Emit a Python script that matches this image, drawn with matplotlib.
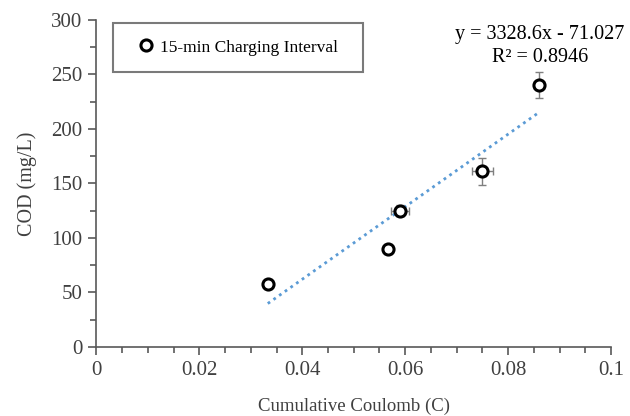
import numpy as np
import matplotlib
matplotlib.use("Agg")
import matplotlib.pyplot as plt
from matplotlib.ticker import MultipleLocator

plt.rcParams['font.family'] = ['Liberation Serif', 'DejaVu Serif']

# data
coulomb = [0.0333, 0.0567, 0.059, 0.075, 0.086]
cod = [58, 90, 125, 161, 240]
cod_err = [0, 0, 5, 12, 12]
coulomb_err = [0, 0, 0.0018, 0.002, 0.001]

slope = 3328.6
intercept = -71.027
r2 = 0.8946

fig = plt.figure(figsize=(6.3, 4.16), dpi=100)
ax = fig.add_axes([0.153, 0.166, 0.817, 0.786])

ax.errorbar(coulomb, cod, yerr=cod_err, xerr=coulomb_err, fmt='none',
            ecolor='#7f7f7f', elinewidth=1, capsize=3, capthick=1, zorder=2)
ax.plot(coulomb, cod, 'o', mfc='white', mec='black', mew=2.2, ms=8,
        linestyle='none', label='15-min Charging Interval', zorder=3)

xf = np.array([min(coulomb), max(coulomb)])
ax.plot(xf, slope * xf + intercept, linestyle=(0, (1, 1.5)), color='#5b9bd5',
        lw=2, zorder=1)

ax.text(0.0862, 276, 'y = %.1fx - %.3f\nR² = %.4f' % (slope, -intercept, r2),
        ha='center', va='center', fontsize=14.5, linespacing=1.3)

ax.set_xlim(0, 0.1)
ax.set_ylim(0, 300)
ax.set_xticks([0, 0.02, 0.04, 0.06, 0.08, 0.1])
ax.set_xticklabels(['0', '0.02', '0.04', '0.06', '0.08', '0.1'])
ax.xaxis.set_minor_locator(MultipleLocator(0.005))
ax.yaxis.set_major_locator(MultipleLocator(50))
ax.yaxis.set_minor_locator(MultipleLocator(25))

for s in ['top', 'right']:
    ax.spines[s].set_visible(False)
for s in ['left', 'bottom']:
    ax.spines[s].set_color('#595959')
    ax.spines[s].set_linewidth(1.2)
ax.tick_params(which='both', color='#595959', width=1.2, labelsize=15,
               labelcolor='#404040')
ax.tick_params(which='major', length=6, pad=4)
ax.tick_params(which='minor', length=4)

ax.set_xlabel('Cumulative Coulomb (C)', fontsize=13.5, color='#404040',
              labelpad=13)
ax.set_ylabel('COD (mg/L)', fontsize=14.5, color='#404040', labelpad=10)

leg = ax.legend(loc='upper left', bbox_to_anchor=(0.033, 0.85, 0.485, 0.141),
                mode='expand', borderaxespad=0, fontsize=12.5,
                fancybox=False, edgecolor='#595959', handletextpad=-0.15,
                borderpad=0.95, handlelength=1.9)
leg.get_frame().set_linewidth(1.5)

fig.savefig('out.png', dpi=100)
